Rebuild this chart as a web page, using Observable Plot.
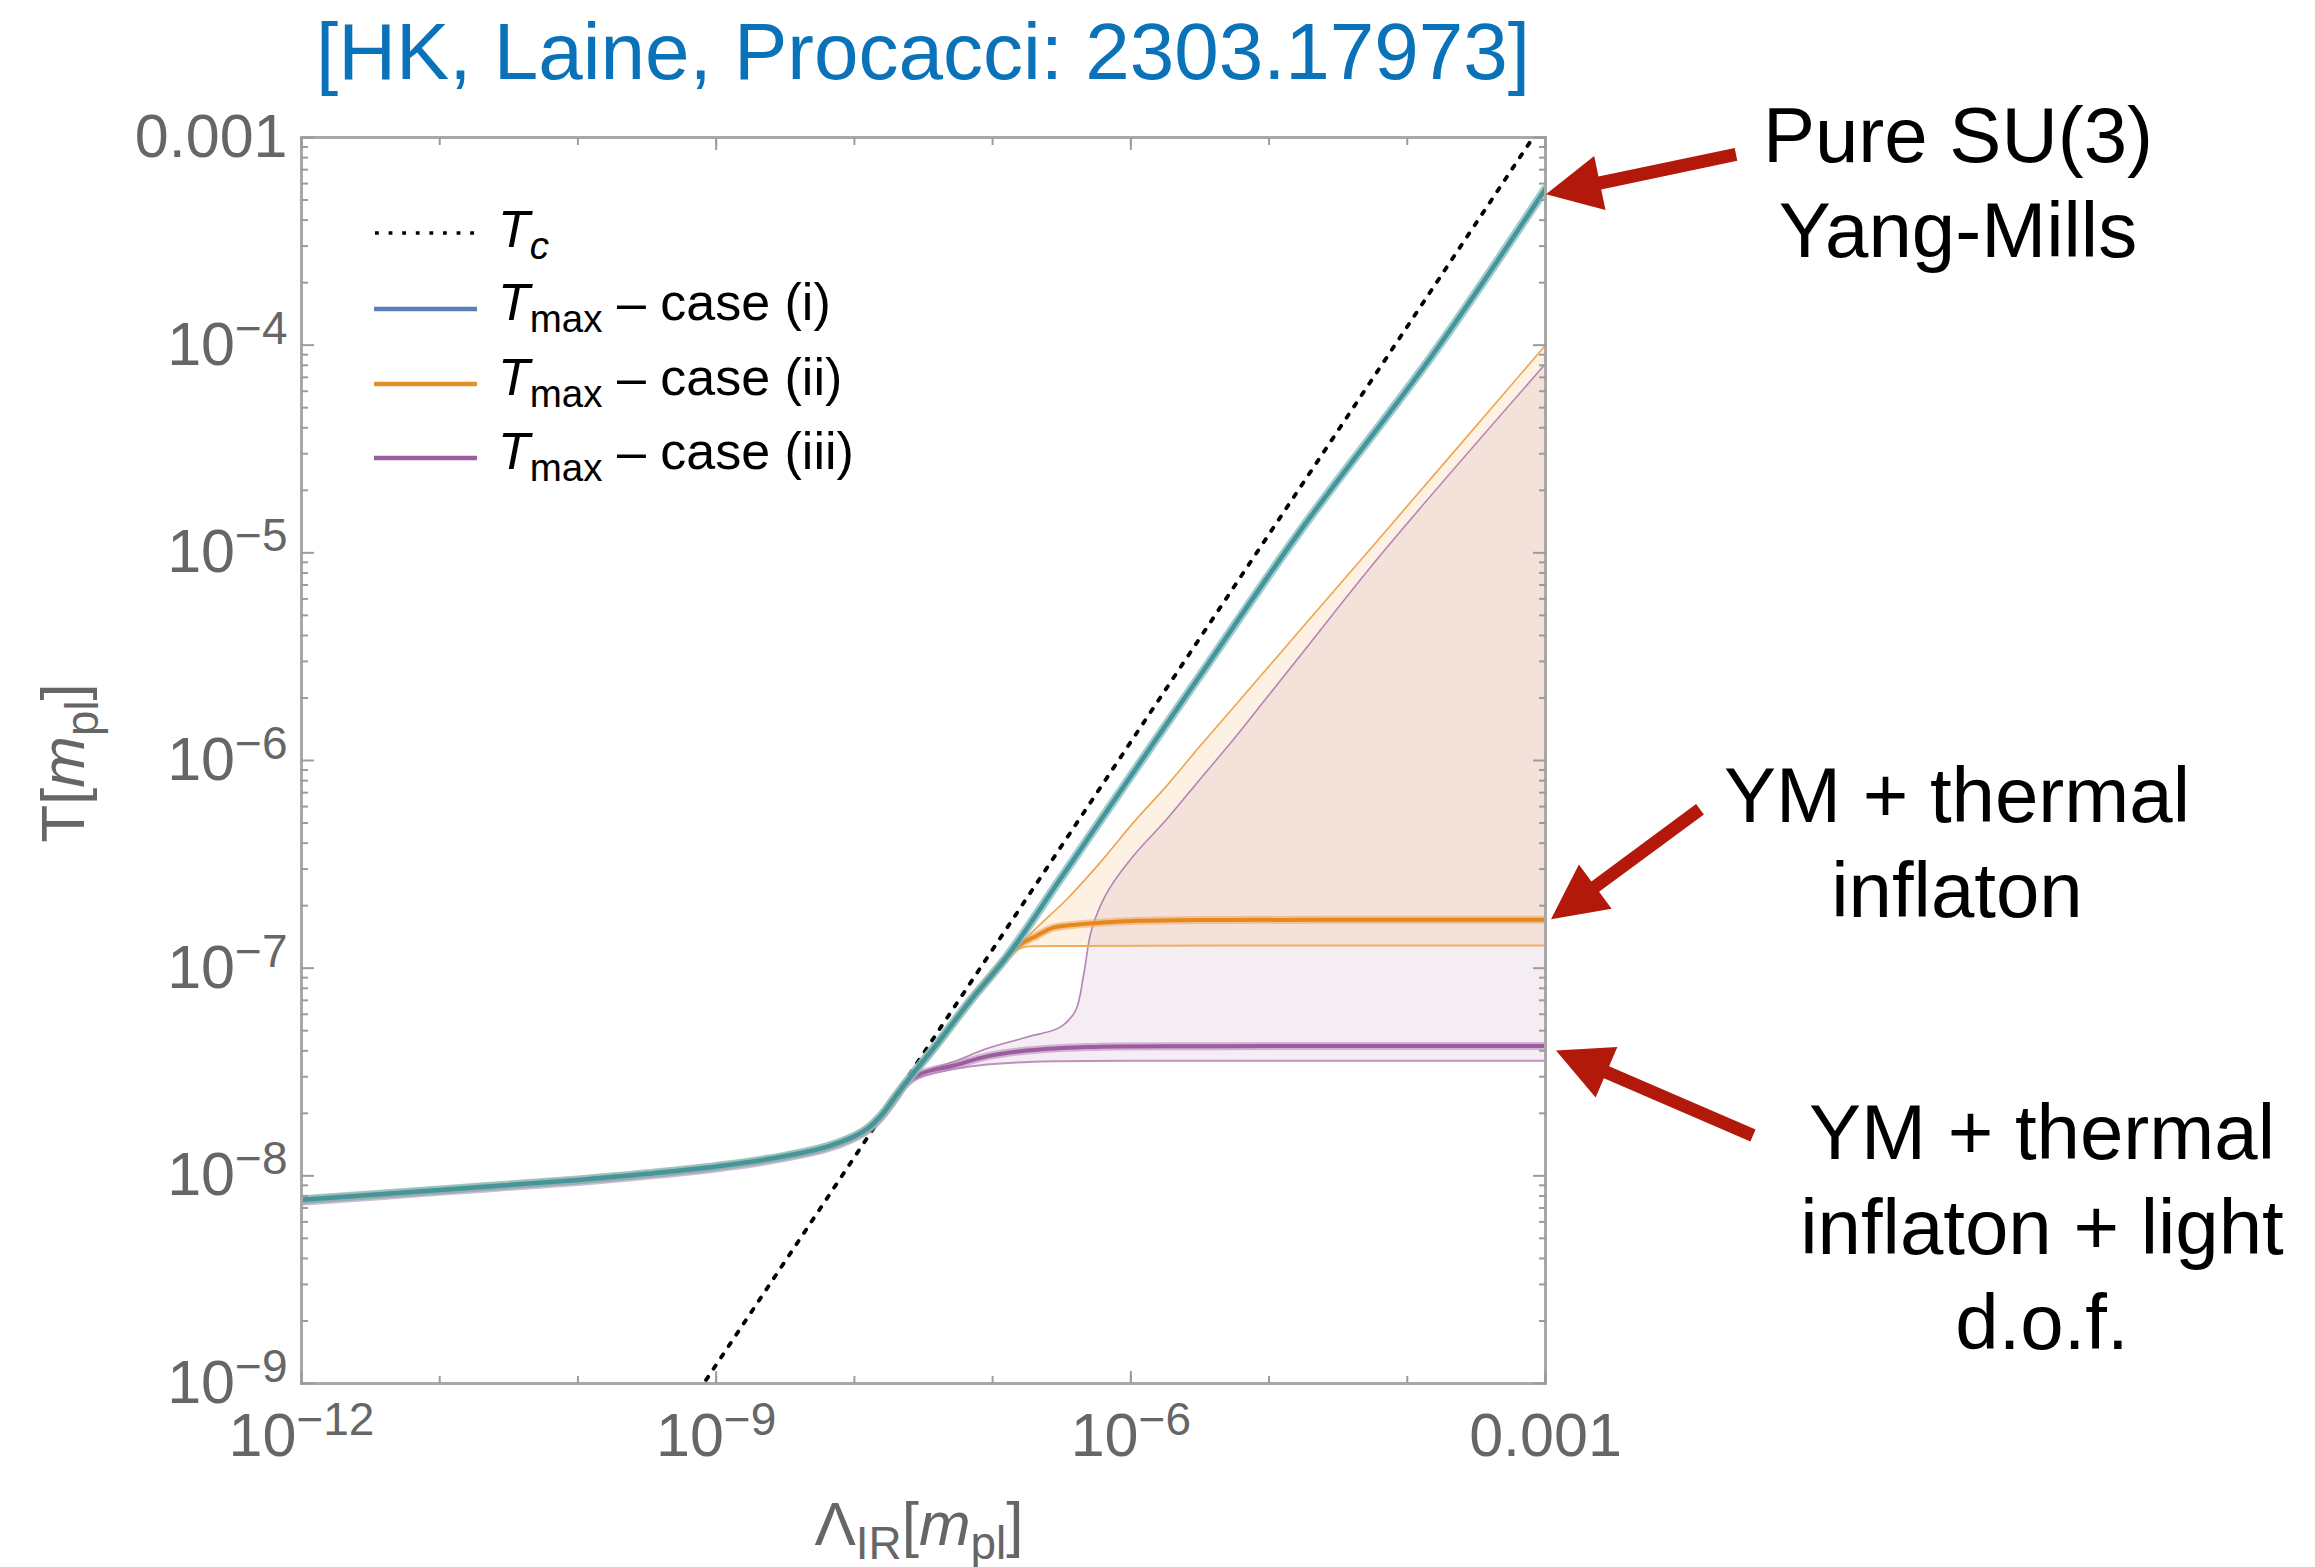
<!DOCTYPE html>
<html>
<head>
<meta charset="utf-8">
<script src="https://cdn.jsdelivr.net/npm/d3@7"></script>
<script src="https://cdn.jsdelivr.net/npm/@observablehq/plot@0.6"></script>
<style>
  html, body { margin: 0; padding: 0; background: #fff; }
  body { width: 2315px; height: 1567px; position: relative; overflow: hidden;
         font-family: "Liberation Sans", Arial, Helvetica, sans-serif; }
  .abs { position: absolute; white-space: nowrap; }
  #title { left: 273px; top: 12px; width: 1300px; text-align: center; font-size: 80px; line-height: 80px; color: #0a72b8; }
  #chart { position: absolute; left: 0; top: 100px; width: 2315px; height: 1467px; }
  .sub { font-size: 0.74em; position: relative; top: 0.3em; line-height: 0; }
  .legend-text { left: 498px; font-size: 52px; line-height: 70px; color: #000; }
  .note { font-size: 78px; line-height: 95px; color: #000; text-align: center; width: 700px; }
  .axis-title { font-size: 62px; line-height: 70px; color: #666; text-align: center; width: 500px; }
</style>
</head>
<body>
<div id="title" class="abs">[HK, Laine, Procacci: 2303.17973]</div>
<div id="chart"></div>

<!-- legend -->
<svg class="abs" style="left:374px;top:228px" width="103" height="10"><line x1="1" y1="5" x2="103" y2="5" stroke="#000" stroke-width="3.6" stroke-dasharray="3.8 9.8"/></svg>
<div class="abs legend-text" style="top:194px"><i>T</i><span class="sub"><i>c</i></span></div>
<svg class="abs" style="left:374px;top:304px" width="103" height="10"><line x1="0" y1="5" x2="103" y2="5" stroke="#5b7fb8" stroke-width="4.5"/></svg>
<div class="abs legend-text" style="top:267px"><i>T</i><span class="sub">max</span> – case (i)</div>
<svg class="abs" style="left:374px;top:379px" width="103" height="10"><line x1="0" y1="5" x2="103" y2="5" stroke="#e4902a" stroke-width="4.5"/></svg>
<div class="abs legend-text" style="top:342px"><i>T</i><span class="sub">max</span> – case (ii)</div>
<svg class="abs" style="left:374px;top:453px" width="103" height="10"><line x1="0" y1="5" x2="103" y2="5" stroke="#9c5d9e" stroke-width="4.5"/></svg>
<div class="abs legend-text" style="top:416px"><i>T</i><span class="sub">max</span> – case (iii)</div>

<!-- axis titles -->
<div class="abs axis-title" style="left:669px;top:1489px">Λ<span class="sub">IR</span>[<i>m</i><span class="sub">pl</span>]</div>
<div class="abs axis-title" style="left:-187px;top:728px;transform:rotate(-90deg)">T[<i>m</i><span class="sub">pl</span>]</div>

<!-- annotations -->
<div class="abs note" style="left:1608px;top:88px">Pure SU(3)<br>Yang-Mills</div>
<div class="abs note" style="left:1607px;top:748px">YM + thermal<br>inflaton</div>
<div class="abs note" style="left:1692px;top:1085px">YM + thermal<br>inflaton + light<br>d.o.f.</div>

<script>
// ---- T_max(Λ_IR), all values in units of m_pl ----
// case (i): pure SU(3) Yang-Mills
const lambdaCase1 = [1e-12, 1e-11, 1e-10, 3.16e-10, 1e-9, 3.16e-9, 6.3e-9, 1e-8, 1.26e-8, 1.58e-8, 2e-8, 2.5e-8, 3.98e-8, 6.9e-8, 1.26e-7, 2.95e-7, 6.0e-7, 3.16e-6, 1.7e-5, 1.55e-4, 1e-3];
const tempCase1   = [7.67e-9, 8.55e-9, 9.55e-9, 1.023e-8, 1.109e-8, 1.245e-8, 1.38e-8, 1.55e-8, 1.70e-8, 1.97e-8, 2.43e-8, 2.95e-8, 4.33e-8, 6.98e-8, 1.13e-7, 2.57e-7, 5.13e-7, 2.56e-6, 1.29e-5, 9.12e-5, 5.66e-4];

// case (ii): YM + thermal inflaton
const lambdaCase2 = [1e-12, 1e-11, 1e-10, 3.16e-10, 1e-9, 3.16e-9, 6.3e-9, 1e-8, 1.26e-8, 1.58e-8, 2e-8, 2.5e-8, 3.98e-8, 6.9e-8, 1.26e-7, 1.585e-7, 2.09e-7, 2.75e-7, 4.79e-7, 8.3e-7, 4.47e-6, 1e-4, 1e-3];
const tempCase2   = [7.67e-9, 8.55e-9, 9.55e-9, 1.023e-8, 1.109e-8, 1.245e-8, 1.38e-8, 1.55e-8, 1.70e-8, 1.97e-8, 2.43e-8, 2.95e-8, 4.33e-8, 6.98e-8, 1.13e-7, 1.30e-7, 1.435e-7, 1.567e-7, 1.637e-7, 1.679e-7, 1.706e-7, 1.71e-7, 1.71e-7];
const lambdaCase2Upper = [1.41e-7, 1.99e-7, 3.47e-7, 6.04e-7, 1.05e-6, 1.83e-6, 3.19e-6, 5.56e-6, 9.7e-6, 1.69e-5, 5.56e-5, 1e-3];
const tempCase2Upper   = [1.20e-7, 1.52e-7, 2.16e-7, 3.24e-7, 5.05e-7, 7.59e-7, 1.18e-6, 1.81e-6, 2.78e-6, 4.27e-6, 1.067e-5, 1.0e-4];
const lambdaCase2Lower = [1.41e-7, 1.66e-7, 2.0e-7, 3.98e-7, 1e-5, 1e-3];
const tempCase2Lower   = [1.20e-7, 1.26e-7, 1.276e-7, 1.28e-7, 1.285e-7, 1.285e-7];

// case (iii): YM + thermal inflaton + light d.o.f.
const lambdaCase3 = [1e-12, 1e-11, 1e-10, 3.16e-10, 1e-9, 3.16e-9, 6.3e-9, 1e-8, 1.26e-8, 1.58e-8, 2e-8, 2.29e-8, 3.02e-8, 5.25e-8, 9.12e-8, 1.585e-7, 4.79e-7, 4.47e-6, 1e-3];
const tempCase3   = [7.5e-9, 8.37e-9, 9.35e-9, 1.0e-8, 1.085e-8, 1.22e-8, 1.35e-8, 1.52e-8, 1.66e-8, 1.93e-8, 2.37e-8, 2.72e-8, 3.10e-8, 3.40e-8, 3.76e-8, 3.98e-8, 4.17e-8, 4.21e-8, 4.22e-8];
const lambdaCase3Upper = [2.29e-8, 3.02e-8, 5.25e-8, 9.12e-8, 1.78e-7, 3.09e-7, 3.98e-7, 4.57e-7, 5.13e-7, 6.03e-7, 7.08e-7, 1.05e-6, 1.83e-6, 3.19e-6, 5.56e-6, 9.7e-6, 1.69e-5, 6.61e-5, 1e-3];
const tempCase3Upper   = [2.72e-8, 3.13e-8, 3.55e-8, 4.10e-8, 4.66e-8, 5.20e-8, 6.25e-8, 9.40e-8, 1.48e-7, 2.00e-7, 2.45e-7, 3.49e-7, 5.24e-7, 8.17e-7, 1.27e-6, 2.02e-6, 3.21e-6, 1.0e-5, 8.13e-5];
const lambdaCase3Lower = [2.29e-8, 3.02e-8, 5.25e-8, 9.12e-8, 2.75e-7, 4.47e-6, 1e-3];
const tempCase3Lower   = [2.72e-8, 2.99e-8, 3.27e-8, 3.44e-8, 3.56e-8, 3.58e-8, 3.58e-8];

// critical temperature T_c(Λ_IR)
const lambdaTc = [1e-10, 1e-3];
const tempTc   = [1.23e-10, 1.23e-3];

// axis ticks
const xTicks = [1e-12, 1e-11, 1e-10, 1e-9, 1e-8, 1e-7, 1e-6, 1e-5, 1e-4, 1e-3];
const xLabelTicks = [1e-12, 1e-9, 1e-6, 1e-3];
const yTicks = [1e-9, 1e-8, 1e-7, 1e-6, 1e-5, 1e-4, 1e-3];
const yMinorSteps = [2, 3, 4, 5, 6, 7, 8, 9];
const yMinorTicks = yTicks.slice(0, -1).flatMap(d => yMinorSteps.map(m => m * d));

const pts = (xs, ys) => xs.map((x, i) => ({x, y: ys[i]}));
// closed outline of a band: upper edge left→right, lower edge right→left
const band = (xu, yu, xl, yl) => pts(xu, yu).concat(pts(xl, yl).reverse());

const fmtTick = d => {
  const k = Math.round(Math.log10(d));
  return k === -3 ? "0.001" : `10^\u2212${-k}`;
};

const grey = "#9c9c9c";
const tickOnly = () => "";

const svg = Plot.plot({
  width: 2315,
  height: 1467,
  marginLeft: 301,
  marginRight: 770,
  marginTop: 37,
  marginBottom: 184,
  x: {type: "log", domain: [1e-12, 1e-3]},
  y: {type: "log", domain: [1e-9, 1e-3]},
  style: {
    fontFamily: '"Liberation Sans", Arial, Helvetica, sans-serif',
    fontSize: "61px",
    color: "#666",
    background: "transparent",
    maxWidth: "none",
    overflow: "visible"
  },
  marks: [
    // uncertainty bands
    Plot.line(band(lambdaCase3Upper, tempCase3Upper, lambdaCase3Lower, tempCase3Lower),
      {x: "x", y: "y", fill: "#965096", fillOpacity: 0.1, stroke: "none", clip: true}),
    Plot.line(band(lambdaCase2Upper, tempCase2Upper, lambdaCase2Lower, tempCase2Lower),
      {x: "x", y: "y", fill: "#f09632", fillOpacity: 0.13, stroke: "none", clip: true}),
    // band edges
    Plot.line(pts(lambdaCase3Upper, tempCase3Upper), {x: "x", y: "y", stroke: "#b683b6", strokeWidth: 1.6, curve: "catmull-rom", clip: true}),
    Plot.line(pts(lambdaCase3Lower, tempCase3Lower), {x: "x", y: "y", stroke: "#bf8fbf", strokeWidth: 2, curve: "catmull-rom", clip: true}),
    Plot.line(pts(lambdaCase2Upper, tempCase2Upper), {x: "x", y: "y", stroke: "#eea44c", strokeWidth: 1.6, curve: "catmull-rom", clip: true}),
    Plot.line(pts(lambdaCase2Lower, tempCase2Lower), {x: "x", y: "y", stroke: "#f0ad5c", strokeWidth: 2, curve: "catmull-rom", clip: true}),
    // T_c
    Plot.line(pts(lambdaTc, tempTc), {x: "x", y: "y", stroke: "#000", strokeWidth: 3.8, strokeDasharray: "3.8 9.8", clip: true}),
    // central curves
    Plot.line(pts(lambdaCase3, tempCase3), {x: "x", y: "y", stroke: "#b98ab9", strokeWidth: 8, strokeOpacity: 0.6, curve: "catmull-rom", clip: true}),
    Plot.line(pts(lambdaCase3, tempCase3), {x: "x", y: "y", stroke: "#9c5d9e", strokeWidth: 4, curve: "catmull-rom", clip: true}),
    Plot.line(pts(lambdaCase2, tempCase2), {x: "x", y: "y", stroke: "#efae62", strokeWidth: 8, strokeOpacity: 0.6, curve: "catmull-rom", clip: true}),
    Plot.line(pts(lambdaCase2, tempCase2), {x: "x", y: "y", stroke: "#e4891f", strokeWidth: 4, curve: "catmull-rom", clip: true}),
    Plot.line(pts(lambdaCase1, tempCase1), {x: "x", y: "y", stroke: "#80bcbf", strokeWidth: 9, strokeOpacity: 0.75, curve: "catmull-rom", clip: true}),
    Plot.line(pts(lambdaCase1, tempCase1), {x: "x", y: "y", stroke: "#45959b", strokeWidth: 4.5, curve: "catmull-rom", clip: true}),
    // frame and inward ticks
    Plot.frame({stroke: "#a8a8a8", strokeWidth: 3}),
    Plot.axisX({anchor: "bottom", ticks: xTicks, tickSize: 7, dy: -7, tickFormat: tickOnly, label: null, stroke: grey, strokeWidth: 2}),
    Plot.axisX({anchor: "bottom", ticks: xLabelTicks, tickSize: 12, dy: -12, tickFormat: tickOnly, label: null, stroke: grey, strokeWidth: 2}),
    Plot.axisX({anchor: "top", ticks: xTicks, tickSize: 7, dy: 7, tickFormat: tickOnly, label: null, stroke: grey, strokeWidth: 2}),
    Plot.axisX({anchor: "top", ticks: xLabelTicks, tickSize: 12, dy: 12, tickFormat: tickOnly, label: null, stroke: grey, strokeWidth: 2}),
    Plot.axisY({anchor: "left", ticks: yTicks, tickSize: 13, dx: 13, tickFormat: tickOnly, label: null, stroke: grey, strokeWidth: 2}),
    Plot.axisY({anchor: "left", ticks: yMinorTicks, tickSize: 7, dx: 7, tickFormat: tickOnly, label: null, stroke: grey, strokeWidth: 2}),
    Plot.axisY({anchor: "right", ticks: yTicks, tickSize: 13, dx: -13, tickFormat: tickOnly, label: null, stroke: grey, strokeWidth: 2}),
    Plot.axisY({anchor: "right", ticks: yMinorTicks, tickSize: 7, dx: -7, tickFormat: tickOnly, label: null, stroke: grey, strokeWidth: 2}),
    // tick labels
    Plot.axisX({anchor: "bottom", ticks: xLabelTicks, tickSize: 0, tickPadding: 29, tickFormat: fmtTick, label: null, fontSize: 61}),
    Plot.axisY({anchor: "left", ticks: yTicks, tickSize: 0, tickPadding: 14, tickFormat: fmtTick, label: null, fontSize: 61})
  ]
});

// typeset powers of ten as 10 with a raised exponent
d3.select(svg).selectAll("text").each(function () {
  const s = this.textContent;
  const i = s.indexOf("^");
  if (i < 0) return;
  this.textContent = s.slice(0, i);
  d3.select(this).append("tspan").attr("dy", -21).attr("font-size", 46).text(s.slice(i + 1));
});

// red call-out arrows, each pointing at the end of one curve
const sx = svg.scale("x"), sy = svg.scale("y");
const arrows = [
  {x: lambdaCase1.at(-1), y: tempCase1.at(-1), tip: [1, 6], tail: [190, -40]},
  {x: lambdaCase2.at(-1), y: tempCase2.at(-1), tip: [6, 0], tail: [149, -110]},
  {x: lambdaCase3.at(-1), y: tempCase3.at(-1), tip: [11, 5], tail: [197, 85]}
];
function arrowPath(tx, ty, ex, ey) {
  const dx = tx - ex, dy = ty - ey, L = Math.hypot(dx, dy);
  const ux = dx / L, uy = dy / L, px = -uy, py = ux;
  const headL = 55, headW = 27.5, shaftW = 6.5;
  const bx = tx - ux * headL, by = ty - uy * headL;
  const p = [
    [ex + px * shaftW, ey + py * shaftW],
    [bx + px * shaftW, by + py * shaftW],
    [bx + px * headW, by + py * headW],
    [tx, ty],
    [bx - px * headW, by - py * headW],
    [bx - px * shaftW, by - py * shaftW],
    [ex - px * shaftW, ey - py * shaftW]
  ];
  return "M" + p.map(q => q.map(v => v.toFixed(1)).join(",")).join("L") + "Z";
}
const g = d3.select(svg).append("g").attr("aria-label", "call-out arrows");
for (const a of arrows) {
  const tx = sx.apply(a.x) + a.tip[0], ty = sy.apply(a.y) + a.tip[1];
  g.append("path").attr("d", arrowPath(tx, ty, tx + a.tail[0], ty + a.tail[1])).attr("fill", "#b3190b");
}

document.getElementById("chart").append(svg);
</script>
</body>
</html>
